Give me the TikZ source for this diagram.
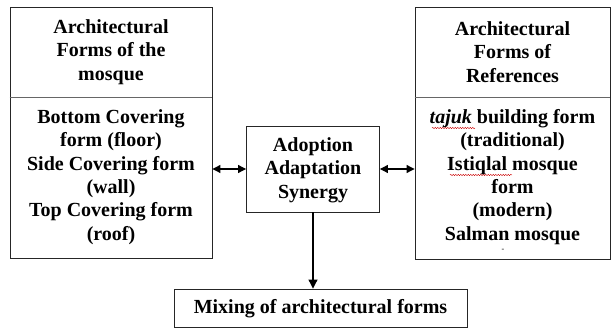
\documentclass[tikz,border=0pt]{standalone}
\usepackage{fontspec}
\setmainfont{Liberation Serif}
\usetikzlibrary{arrows.meta,decorations.pathmorphing}
\begin{document}
\begin{tikzpicture}[x=1pt,y=-1pt,
  frame/.style={draw=black!85,line width=0.9pt,inner sep=0pt},
  txt/.style={align=center,inner sep=0pt,font=\fontsize{20}{23.3}\selectfont\bfseries},
  link/.style={line width=1.1pt,{Triangle[length=8pt,width=8pt]}-{Triangle[length=8pt,width=8pt]}},
  down/.style={line width=1.1pt,-{Triangle[length=9pt,width=9pt]}},
  squig/.style={red!80!black,line width=0.4pt,decorate,decoration={snake,amplitude=0.7pt,segment length=2.5pt}}]
\useasboundingbox (0,0) rectangle (611,328);
% boxes
\node[frame,minimum width=202pt,minimum height=251pt] (L) at (111,132.5) {};
\node[frame,minimum width=195pt,minimum height=252pt] (R) at (512.5,133) {};
\node[frame,minimum width=133pt,minimum height=86pt] (M) at (313,169) {};
\node[frame,minimum width=293pt,minimum height=38pt] (B) at (320.5,308) {};
% dividers
\coordinate (ld) at (0,97);
\draw[black!60,line width=0.9pt] (L.west |- ld) -- (L.east |- ld);
\draw[black!60,line width=0.9pt] (R.west |- ld) -- (R.east |- ld);
% texts
\node[txt] (Lt) at (111,52) {Architectural\\Forms of the\\mosque};
\node[txt] (Lb) at (111,177) {Bottom Covering\\form (floor)\\Side Covering form\\(wall)\\Top Covering form\\(roof)};
\node[txt] (Rt) at (512.5,52) {Architectural\\Forms of\\References};
\node[txt] (Rb) at (512.5,177) {\textit{tajuk} building form\\(traditional)\\Istiqlal mosque\\form\\(modern)\\Salman mosque};
\node[inner sep=0pt,font=\fontsize{8}{8}\selectfont] (dash) at (503,250) {-};
\node[txt] (Mt) at (313,170) {Adoption\\Adaptation\\Synergy};
\node[txt] (Bt) at (320.5,309) {Mixing of architectural forms};
% spell-check squiggles
\draw[squig] (432,128) -- (475,128);
\draw[squig] (450,175) -- (512,175);
% connectors
\draw[link] (L.east |- M.west) -- (M.west);
\draw[link] (M.east) -- (R.west |- M.east);
\draw[down] (M.south) -- (M.south |- B.north);
\end{tikzpicture}
\end{document}
